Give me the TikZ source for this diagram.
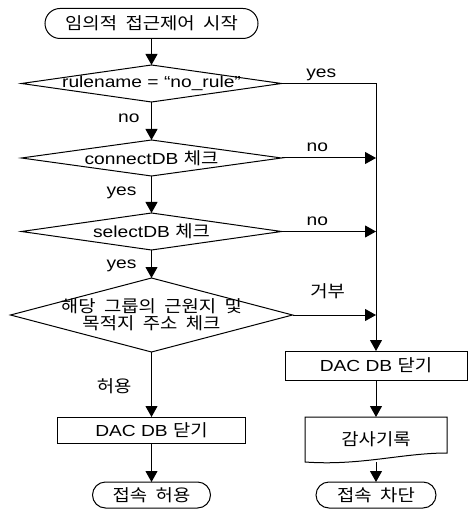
\documentclass[tikz,border=0pt]{standalone}
\usepackage{fontspec}
\setmainfont{Liberation Sans}[FakeStretch=1.2]
\newfontfamily\kr{Noto Sans CJK KR}[Scale=1.05, FakeStretch=1.12, WordSpace=2]
\usetikzlibrary{arrows.meta, positioning}
\tikzset{
  every picture/.style={line width=1pt},
  every node/.style={outer sep=0pt},
  term/.style={draw, rounded corners=#1, inner sep=0pt},
  term/.default=13pt,
  box/.style={draw, inner sep=0pt, align=center},
  dec/.style={inner sep=0pt, minimum width=260pt, minimum height=37pt, align=center},
  arrow/.style={-{Triangle[length=11pt, width=12pt]}},
  lbl/.style={inner sep=0pt},
}
\begin{document}
\fontsize{16}{17}\selectfont
\begin{tikzpicture}[x=1pt, y=-1pt]
  \useasboundingbox (0,0) rectangle (468,510);
  % main column
  \node[term=15pt, minimum width=213pt, minimum height=30pt] (start) at (151.5,23.5) {\kr 임의적 접근제어 시작};
  \node[dec, below=26.5pt of start] (d1) {rulename = “no\_rule”};
  \node[dec, below=38pt of d1, minimum height=36pt] (d2) {connectDB {\kr 체크}};
  \node[dec, below=37pt of d2] (d3) {selectDB {\kr 체크}};
  \node[dec, below=28pt of d3, minimum width=282pt, minimum height=74pt, font=\kr] (d4) {해당 그룹의 근원지 및\\목적지 주소 체크};
  \node[box, below=65pt of d4, minimum width=188pt, minimum height=26.5pt] (close1) {DAC DB {\kr 닫기}};
  \node[term, below=38.5pt of close1, minimum width=118pt, minimum height=26pt] (allow) {\kr 접속 허용};
  % reject column
  \node[box, minimum width=182pt, minimum height=29pt] (close2) at (376,365.5) {DAC DB {\kr 닫기}};
  \node[box, draw=none, below=37pt of close2, minimum width=142pt, minimum height=45pt] (log) {\kr 감사기록};
  \node[term, below=20pt of log, minimum width=120pt, minimum height=26pt] (deny) {\kr 접속 차단};
  % decision outlines
  \foreach \n in {d1,d2,d3,d4}
    \draw (\n.west) -- (\n.north) -- (\n.east) -- (\n.south) -- cycle;
  \draw (log.south west) -- (log.north west) -- (log.north east) -- ([yshift=9pt]log.south east)
    .. controls ([xshift=-45pt, yshift=9pt]log.south east) and ([xshift=55pt, yshift=-4pt]log.south west) .. (log.south west) -- cycle;
  % connectors
  \draw[arrow] (start) -- (d1);
  \draw[arrow] (d1) -- node[lbl, left=12pt, pos=0.42] {no} (d2);
  \draw[arrow] (d2) -- node[lbl, left=15pt, pos=0.45] {yes} (d3);
  \draw[arrow] (d3) -- node[lbl, left=15pt, pos=0.57] {yes} (d4);
  \draw[arrow] (d4) -- node[lbl, left=20pt, pos=0.53, font=\kr] {허용} (close1);
  \draw[arrow] (close1) -- (allow);
  \draw[arrow] (d1.east) -| node[lbl, above=3pt, pos=0.21] {yes} (close2.north);
  \draw[arrow] (d2.east) -- node[lbl, above=6pt, pos=0.38] {no} (d2.east -| close2);
  \draw[arrow] (d3.east) -- node[lbl, above=6pt, pos=0.38] {no} (d3.east -| close2);
  \draw[arrow] (d4.east) -- node[lbl, above=16pt, pos=0.42, font=\kr] {거부} (d4.east -| close2);
  \draw[arrow] (close2) -- (log);
  \draw[arrow] (log) -- (deny);
\end{tikzpicture}
\end{document}
